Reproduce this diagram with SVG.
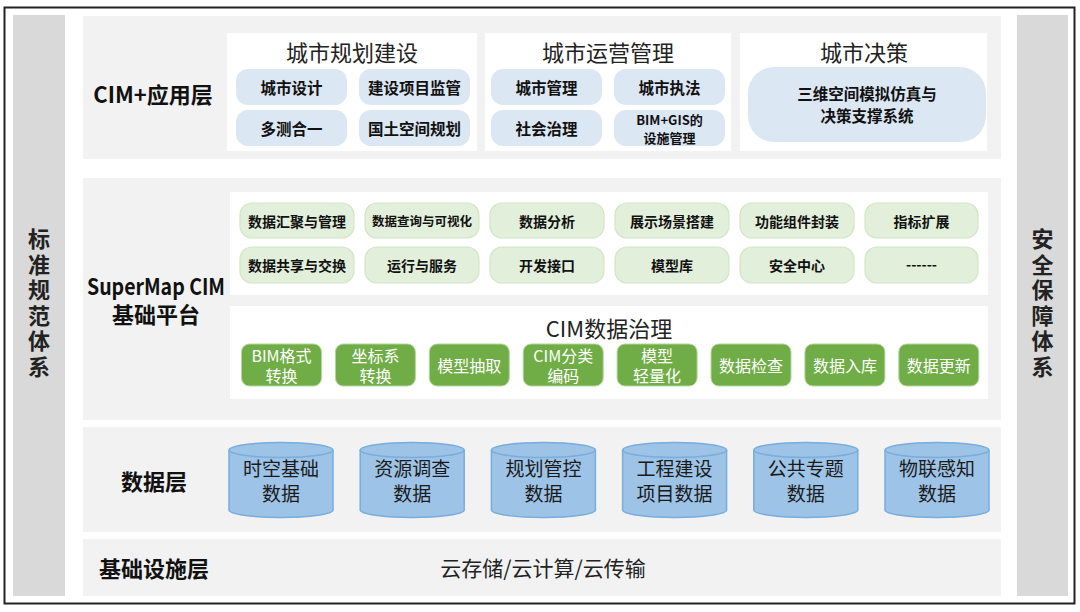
<svg xmlns="http://www.w3.org/2000/svg" width="1080" height="612" viewBox="0 0 1080 612">
<style>
text{font-family:"Noto Sans CJK SC","Noto Sans",sans-serif;text-anchor:middle;dominant-baseline:central;fill:#111}
.lbl{font-size:22px;font-weight:bold}
.vt{font-size:22px;font-weight:bold;fill:#222;writing-mode:vertical-rl;letter-spacing:3.5px}
.ttl{font-size:22px;fill:#222}
.panel{fill:#F2F2F2}
.wbox{fill:#FFFFFF}
.side{fill:#D9D9D9}
.bp{fill:#DCE7F4}
.bpt{font-size:15.5px;font-weight:bold}
.gp{fill:#E2EFDA;stroke:#D2E6C5;stroke-width:1.2}
.gpt{font-size:14px;font-weight:bold}
.dg{fill:#70AD47;stroke:#B5D69E;stroke-width:1}
.dgt{font-size:16px;fill:#FFFFFF}
.cyl{fill:#9DC3E6;stroke:#79ADDD;stroke-width:1.5}
.cyt{font-size:19px;fill:#1a1a1a}
</style>

<rect x="4.5" y="7.5" width="1070" height="596" fill="#FFFFFF" stroke="#222" stroke-width="2"/>

<g id="side-left">
<rect class="side" x="13" y="15" width="52" height="581"/>
<text class="vt" x="39" y="304.5">标准规范体系</text>
</g>
<g id="side-right">
<rect class="side" x="1017" y="15" width="51" height="581"/>
<text class="vt" x="1042.5" y="304.5">安全保障体系</text>
</g>

<g id="layer-app">
<rect class="panel" x="83" y="16" width="918" height="143"/>
<text class="lbl" x="153" y="93">CIM+应用层</text>
</g>
<g id="app-planning">
<rect class="wbox" x="227" y="33" width="250" height="118"/>
<text class="ttl" x="352" y="51">城市规划建设</text>
<rect class="bp" x="236" y="69" width="111" height="36" rx="12"/>
<text class="bpt" x="291.5" y="87">城市设计</text>
<rect class="bp" x="359" y="69" width="111" height="36" rx="12"/>
<text class="bpt" x="414.5" y="87">建设项目监管</text>
<rect class="bp" x="236" y="110" width="111" height="36" rx="12"/>
<text class="bpt" x="291.5" y="128">多测合一</text>
<rect class="bp" x="359" y="110" width="111" height="36" rx="12"/>
<text class="bpt" x="414.5" y="128">国土空间规划</text>
</g>
<g id="app-operation">
<rect class="wbox" x="485" y="33" width="246" height="118"/>
<text class="ttl" x="608" y="51">城市运营管理</text>
<rect class="bp" x="491" y="69" width="111" height="36" rx="12"/>
<text class="bpt" x="546.5" y="87">城市管理</text>
<rect class="bp" x="614" y="69" width="111" height="36" rx="12"/>
<text class="bpt" x="669.5" y="87">城市执法</text>
<rect class="bp" x="491" y="110" width="111" height="36" rx="12"/>
<text class="bpt" x="546.5" y="128">社会治理</text>
<rect class="bp" x="614" y="110" width="111" height="36" rx="12"/>
<text style="font-size:13px;font-weight:bold"><tspan x="669.5" y="119">BIM+GIS的</tspan><tspan x="669.5" y="137">设施管理</tspan></text>
</g>
<g id="app-decision">
<rect class="wbox" x="740" y="33" width="247" height="118"/>
<text class="ttl" x="864" y="51">城市决策</text>
<rect class="bp" x="748" y="67" width="238" height="75" rx="26"/>
<text class="bpt"><tspan x="867" y="93">三维空间模拟仿真与</tspan><tspan x="867" y="115">决策支撑系统</tspan></text>
</g>

<g id="layer-platform">
<rect class="panel" x="83" y="178" width="918" height="242"/>
<text class="lbl"><tspan x="156" y="285" textLength="138" lengthAdjust="spacingAndGlyphs">SuperMap CIM</tspan><tspan x="156" y="313">基础平台</tspan></text>
</g>
<g id="platform-functions">
<rect class="wbox" x="230" y="192" width="758" height="103"/>
<rect class="gp" x="240" y="203" width="114" height="35" rx="12"/>
<text class="gpt" x="297" y="220.5">数据汇聚与管理</text>
<rect class="gp" x="365" y="203" width="114" height="35" rx="12"/>
<text class="gpt" x="422" y="220.5" style="font-size:12.5px">数据查询与可视化</text>
<rect class="gp" x="490" y="203" width="114" height="35" rx="12"/>
<text class="gpt" x="547" y="220.5">数据分析</text>
<rect class="gp" x="615" y="203" width="114" height="35" rx="12"/>
<text class="gpt" x="672" y="220.5">展示场景搭建</text>
<rect class="gp" x="740" y="203" width="114" height="35" rx="12"/>
<text class="gpt" x="797" y="220.5">功能组件封装</text>
<rect class="gp" x="865" y="203" width="113" height="35" rx="12"/>
<text class="gpt" x="921.5" y="220.5">指标扩展</text>
<rect class="gp" x="240" y="247" width="114" height="36" rx="12"/>
<text class="gpt" x="297" y="265">数据共享与交换</text>
<rect class="gp" x="365" y="247" width="114" height="36" rx="12"/>
<text class="gpt" x="422" y="265">运行与服务</text>
<rect class="gp" x="490" y="247" width="114" height="36" rx="12"/>
<text class="gpt" x="547" y="265">开发接口</text>
<rect class="gp" x="615" y="247" width="114" height="36" rx="12"/>
<text class="gpt" x="672" y="265">模型库</text>
<rect class="gp" x="740" y="247" width="114" height="36" rx="12"/>
<text class="gpt" x="797" y="265">安全中心</text>
<rect class="gp" x="865" y="247" width="113" height="36" rx="12"/>
<text class="gpt" x="921.5" y="264">------</text>
</g>
<g id="platform-governance">
<rect class="wbox" x="230" y="306" width="758" height="93"/>
<text class="ttl" x="609" y="327">CIM数据治理</text>
<rect class="dg" x="241.5" y="344" width="80" height="42" rx="8"/>
<text class="dgt"><tspan x="281.5" y="355">BIM格式</tspan><tspan x="281.5" y="375">转换</tspan></text>
<rect class="dg" x="335.4" y="344" width="80" height="42" rx="8"/>
<text class="dgt"><tspan x="375.4" y="355">坐标系</tspan><tspan x="375.4" y="375">转换</tspan></text>
<rect class="dg" x="429.3" y="344" width="80" height="42" rx="8"/>
<text class="dgt" x="469.3" y="365">模型抽取</text>
<rect class="dg" x="523.2" y="344" width="80" height="42" rx="8"/>
<text class="dgt"><tspan x="563.2" y="355">CIM分类</tspan><tspan x="563.2" y="375">编码</tspan></text>
<rect class="dg" x="617.1" y="344" width="80" height="42" rx="8"/>
<text class="dgt"><tspan x="657.1" y="355">模型</tspan><tspan x="657.1" y="375">轻量化</tspan></text>
<rect class="dg" x="711" y="344" width="80" height="42" rx="8"/>
<text class="dgt" x="751" y="365">数据检查</text>
<rect class="dg" x="804.9" y="344" width="80" height="42" rx="8"/>
<text class="dgt" x="844.9" y="365">数据入库</text>
<rect class="dg" x="898.8" y="344" width="80" height="42" rx="8"/>
<text class="dgt" x="938.8" y="365">数据更新</text>
</g>

<g id="layer-data">
<rect class="panel" x="83" y="427" width="918" height="105"/>
<text class="lbl" x="154" y="480">数据层</text>
</g>
<g id="data-cylinders">
<g id="cyl-1">
<path class="cyl" d="M229,450 v60 a52,7.5 0 0 0 104,0 v-60"/>
<ellipse class="cyl" cx="281" cy="450" rx="52" ry="7.5"/>
<text class="cyt"><tspan x="281" y="467">时空基础</tspan><tspan x="281" y="492">数据</tspan></text>
</g>
<g id="cyl-2">
<path class="cyl" d="M360.2,450 v60 a52,7.5 0 0 0 104,0 v-60"/>
<ellipse class="cyl" cx="412.2" cy="450" rx="52" ry="7.5"/>
<text class="cyt"><tspan x="412.2" y="467">资源调查</tspan><tspan x="412.2" y="492">数据</tspan></text>
</g>
<g id="cyl-3">
<path class="cyl" d="M491.4,450 v60 a52,7.5 0 0 0 104,0 v-60"/>
<ellipse class="cyl" cx="543.4" cy="450" rx="52" ry="7.5"/>
<text class="cyt"><tspan x="543.4" y="467">规划管控</tspan><tspan x="543.4" y="492">数据</tspan></text>
</g>
<g id="cyl-4">
<path class="cyl" d="M622.6,450 v60 a52,7.5 0 0 0 104,0 v-60"/>
<ellipse class="cyl" cx="674.6" cy="450" rx="52" ry="7.5"/>
<text class="cyt"><tspan x="674.6" y="467">工程建设</tspan><tspan x="674.6" y="492">项目数据</tspan></text>
</g>
<g id="cyl-5">
<path class="cyl" d="M753.8,450 v60 a52,7.5 0 0 0 104,0 v-60"/>
<ellipse class="cyl" cx="805.8" cy="450" rx="52" ry="7.5"/>
<text class="cyt"><tspan x="805.8" y="467">公共专题</tspan><tspan x="805.8" y="492">数据</tspan></text>
</g>
<g id="cyl-6">
<path class="cyl" d="M885,450 v60 a52,7.5 0 0 0 104,0 v-60"/>
<ellipse class="cyl" cx="937" cy="450" rx="52" ry="7.5"/>
<text class="cyt"><tspan x="937" y="467">物联感知</tspan><tspan x="937" y="492">数据</tspan></text>
</g>
</g>

<g id="layer-infra">
<rect class="panel" x="83" y="539" width="918" height="57"/>
<text class="lbl" x="154" y="567">基础设施层</text>
<text x="543" y="567" style="font-size:21px;fill:#222">云存储/云计算/云传输</text>
</g>

<g id="connectors"></g>
</svg>
